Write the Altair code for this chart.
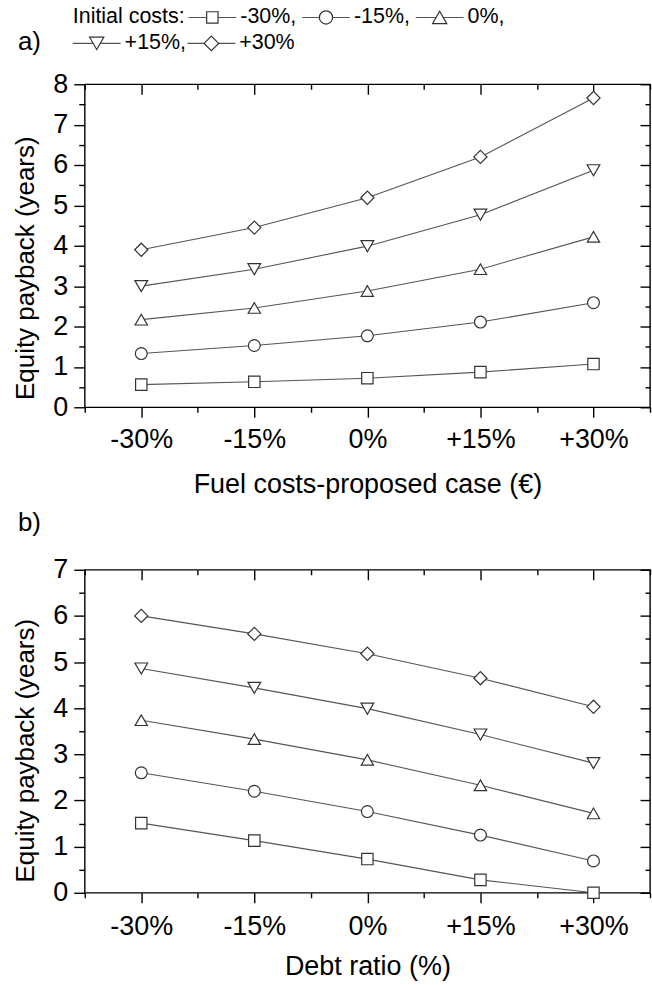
import altair as alt
import pandas as pd

FONT = "Liberation Sans, Arial, sans-serif"

# ---------------- data ----------------
x_levels = [-30, -15, 0, 15, 30]
series = ["-30%", "-15%", "0%", "+15%", "+30%"]          # initial costs
shapes = ["square", "circle", "triangle-up", "triangle-down", "diamond"]

# panel a) fuel costs - proposed case
fuel_m30 = [0.56, 0.63, 0.72, 0.87, 1.07]
fuel_m15 = [1.33, 1.53, 1.77, 2.11, 2.59]
fuel_0 = [2.17, 2.46, 2.88, 3.42, 4.22]
fuel_p15 = [3.00, 3.42, 3.99, 4.77, 5.87]
fuel_p30 = [3.90, 4.45, 5.19, 6.20, 7.66]

# panel b) debt ratio
debt_m30 = [1.51, 1.13, 0.73, 0.28, 0.00]
debt_m15 = [2.60, 2.20, 1.76, 1.25, 0.69]
debt_0 = [3.74, 3.33, 2.88, 2.33, 1.72]
debt_p15 = [4.86, 4.44, 3.99, 3.43, 2.81]
debt_p30 = [6.00, 5.61, 5.18, 4.65, 4.03]

y_major_a = list(range(0, 9))
y_minor_a = [i + 0.5 for i in range(8)]
y_major_b = list(range(0, 8))
y_minor_b = [i + 0.5 for i in range(7)]
x_minor = [-37.5, -22.5, -7.5, 7.5, 22.5, 37.5]


def long_df(cols):
    rows = []
    for s, vals in zip(series, cols):
        for x, v in zip(x_levels, vals):
            rows.append({"x": x, "y": v, "series": s})
    return pd.DataFrame(rows)


df_a = long_df([fuel_m30, fuel_m15, fuel_0, fuel_p15, fuel_p30])
df_b = long_df([debt_m30, debt_m15, debt_0, debt_p15, debt_p30])

# ---------------- styling / layout ----------------
W, H = 567, 324
LINE_COLOR = "#555555"
MARK_STROKE = "#333333"
sizes = [130, 175, 205, 205, 215]
LABEL_FS = 27
TITLE_FS = 27
MAJ, MIN = 10, 5

label_expr = "datum.value > 0 ? '+' + datum.value + '%' : datum.value + '%'"


def panel(df, ymax, y_major, y_minor, xtitle, x_label_base, x_title_y, y_title_y,
          tag, tag_y, legend=False):
    xs = alt.Scale(domain=[-37.5, 37.5], nice=False, zero=False)
    ys = alt.Scale(domain=[0, ymax], nice=False, zero=False)

    common = dict(grid=False, tickColor="black", tickWidth=1.4, labelFlush=False,
                  labelOverlap=False)

    ax_x_major = alt.Axis(orient="bottom", values=x_levels, labelExpr=label_expr,
                          tickSize=MAJ, domain=False, labelFontSize=LABEL_FS,
                          labelBaseline="alphabetic", labelPadding=x_label_base - MAJ,
                          labelFont=FONT, labelColor="black",
                          title=xtitle, titleFontSize=TITLE_FS, titleFont=FONT,
                          titleFontWeight="normal", titleColor="black",
                          titleBaseline="alphabetic", titleY=x_title_y, titleX=W / 2,
                          **common)
    ax_y_major = alt.Axis(orient="left", values=y_major, format="d",
                          tickSize=MAJ + 1, domain=False, labelFontSize=LABEL_FS,
                          labelPadding=6, labelFont=FONT, labelColor="black",
                          title="Equity payback (years)", titleFontSize=26,
                          titleFont=FONT, titleFontWeight="normal", titleColor="black",
                          titleAngle=270, titleAlign="center", titleBaseline="middle",
                          titleX=-59, titleY=y_title_y, **common)
    ax_x_minor = alt.Axis(orient="bottom", values=x_minor, tickSize=MIN, labels=False,
                          domain=False, title=None, **common)
    ax_y_minor = alt.Axis(orient="left", values=y_minor, tickSize=MIN + 1, labels=False,
                          domain=False, title=None, **common)
    ax_x_top = alt.Axis(orient="top", values=x_levels, tickSize=MAJ, offset=-MAJ,
                        labels=False, domain=False, title=None, **common)
    ax_y_right = alt.Axis(orient="right", values=y_major, tickSize=MAJ, offset=-MAJ,
                          labels=False, domain=False, title=None, **common)
    ax_x_top_minor = alt.Axis(orient="top", values=x_minor, tickSize=MIN, offset=-MIN,
                              labels=False, domain=False, title=None, **common)
    ax_y_right_minor = alt.Axis(orient="right", values=y_minor, tickSize=MIN, offset=-MIN,
                                labels=False, domain=False, title=None, **common)

    shape_enc = alt.Shape("series:N", scale=alt.Scale(domain=series, range=shapes), legend=None)
    size_enc = alt.Size("series:N", scale=alt.Scale(domain=series, range=sizes), legend=None)

    lines = alt.Chart(df).mark_line(color=LINE_COLOR, strokeWidth=1.1).encode(
        x=alt.X("x:Q", scale=xs, axis=ax_x_major),
        y=alt.Y("y:Q", scale=ys, axis=ax_y_major),
        detail="series:N",
        order="x:Q",
    )
    points = alt.Chart(df).mark_point(filled=True, fill="white", stroke=MARK_STROKE,
                                      strokeWidth=1.2, opacity=1).encode(
        x=alt.X("x:Q", scale=xs, axis=ax_x_minor),
        y=alt.Y("y:Q", scale=ys, axis=ax_y_minor),
        shape=shape_enc,
        size=size_enc,
    )
    inv1 = alt.Chart(df).mark_point(opacity=0).encode(
        x=alt.X("x:Q", scale=xs, axis=ax_x_top),
        y=alt.Y("y:Q", scale=ys, axis=ax_y_right),
    )
    inv2 = alt.Chart(df).mark_point(opacity=0).encode(
        x=alt.X("x:Q", scale=xs, axis=ax_x_top_minor),
        y=alt.Y("y:Q", scale=ys, axis=ax_y_right_minor),
    )

    one = alt.Data(values=[{}])
    tag_txt = alt.Chart(one).mark_text(align="left", baseline="middle", fontSize=26,
                                       font=FONT, color="black").encode(
        x=alt.value(-67), y=alt.value(tag_y), text=alt.value(tag))

    layers = [lines, points, inv1, inv2, tag_txt]

    if legend:
        LEG_FS = 21.5
        row_y = [-67, -41]
        # legend layout: (row, symbol centre x) for each series
        leg_layout = [(0, 128), (0, 242), (0, 356), (1, 12), (1, 127)]
        layers.append(alt.Chart(one).mark_text(align="left", baseline="middle",
                                               fontSize=LEG_FS, font=FONT, color="black").encode(
            x=alt.value(-12), y=alt.value(row_y[0]), text=alt.value("Initial costs:")))
        for i, (s, shp, sz) in enumerate(zip(series, shapes, sizes)):
            r, cx = leg_layout[i]
            yy = row_y[r]
            layers.append(alt.Chart(one).mark_rule(color=LINE_COLOR, strokeWidth=1.1).encode(
                x=alt.value(cx - 24), x2=alt.value(cx + 24), y=alt.value(yy)))
            layers.append(alt.Chart(one).mark_point(filled=True, fill="white", stroke=MARK_STROKE,
                                                    strokeWidth=1.2, opacity=1).encode(
                x=alt.value(cx), y=alt.value(yy), shape=alt.value(shp), size=alt.value(sz)))
            lab = s + ("," if i < len(series) - 1 else "")
            layers.append(alt.Chart(one).mark_text(align="left", baseline="middle",
                                                   fontSize=LEG_FS, font=FONT, color="black").encode(
                x=alt.value(cx + 28), y=alt.value(yy), text=alt.value(lab)))

    return alt.layer(*layers).resolve_axis(x="independent", y="independent").properties(
        width=W, height=H)


top = panel(df_a, 8, y_major_a, y_minor_a, "Fuel costs-proposed case (\u20ac)", 40, 85, 184,
            "a)", -42, legend=True)
bottom = panel(df_b, 7, y_major_b, y_minor_b, "Debt ratio (%)", 42, 82, 181, "b)", -47)

chart = alt.vconcat(top, bottom, spacing=163, bounds="flush").properties(
    padding={"left": 12, "top": 4, "right": 0, "bottom": 4},
    background="white",
).configure_view(stroke="black", strokeWidth=1.4).configure_axis(grid=False)

chart.save("out.html", embed_options={"renderer": "svg", "actions": False})
